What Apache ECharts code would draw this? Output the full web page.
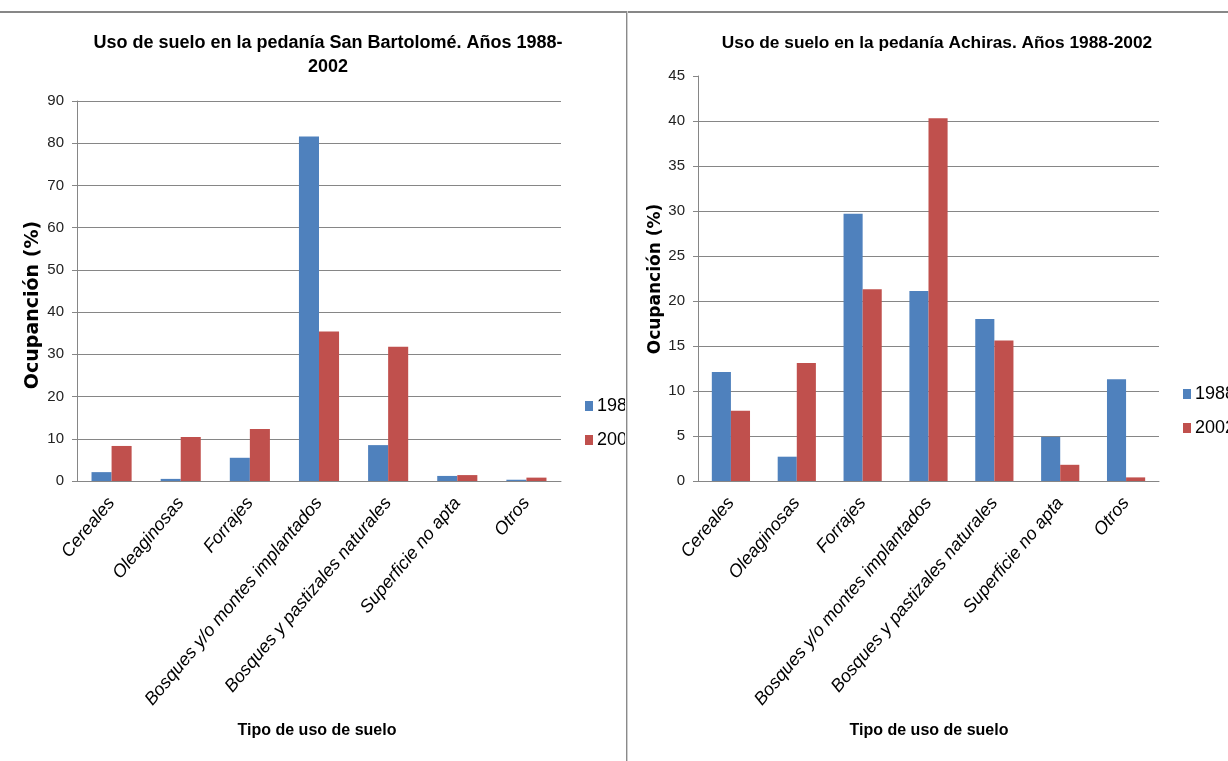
<!DOCTYPE html>
<html lang="es">
<head>
<meta charset="utf-8">
<title>Uso de suelo 1988-2002</title>
<script src="https://cdn.jsdelivr.net/npm/echarts@6/dist/echarts.min.js"></script>
<style>
  html, body { margin: 0; padding: 0; background: #ffffff; }
  #page { position: relative; width: 1228px; height: 761px; overflow: hidden; background: #ffffff; }
  .panel { position: absolute; top: 0; height: 761px; overflow: hidden; }
  #sanBartolome { left: 0; width: 625px; }
  #achiras { left: 628px; width: 600px; }
  #borderTop { position: absolute; left: 0; top: 11px; width: 1228px; height: 2px; background: #878787; }
  #divider { position: absolute; left: 626px; top: 11px; width: 1px; height: 750px; background: #8a8a8a; border-right: 1px solid #cfcfcf; }
</style>
</head>
<body>
<div id="page">
  <div id="sanBartolome" class="panel"></div>
  <div id="achiras" class="panel"></div>
  <div id="borderTop"></div>
  <div id="divider"></div>
</div>
<script>
// Land-use categories shared by both districts
const categorias = [
  'Cereales',
  'Oleaginosas',
  'Forrajes',
  'Bosques y/o montes implantados',
  'Bosques y pastizales naturales',
  'Superficie no apta',
  'Otros'
];
const anios = ['1988', '2002'];

// Occupation (%) — pedanía San Bartolomé
const sanBartolome1988 = [2.1, 0.5, 5.5, 81.6, 8.5, 1.2, 0.3];
const sanBartolome2002 = [8.3, 10.4, 12.3, 35.4, 31.8, 1.4, 0.8];

// Occupation (%) — pedanía Achiras
const achiras1988 = [12.1, 2.7, 29.7, 21.1, 18.0, 4.9, 11.3];
const achiras2002 = [7.8, 13.1, 21.3, 40.3, 15.6, 1.8, 0.4];

// Value-axis ticks
const ticksSanBartolome = [0, 10, 20, 30, 40, 50, 60, 70, 80, 90];
const ticksAchiras = [0, 5, 10, 15, 20, 25, 30, 35, 40, 45];

const tituloSanBartolome = 'Uso de suelo en la pedanía San Bartolomé. Años 1988-\n2002';
const tituloAchiras = 'Uso de suelo en la pedanía Achiras. Años 1988-2002';
const tituloEjeY = 'Ocupanción (%)';
const tituloEjeX = 'Tipo de uso de suelo';

const colores = ['#4F81BD', '#C0504D'];

const SANS = '"Liberation Sans", Arial, sans-serif';
const WIDE = '"DejaVu Sans", Verdana, sans-serif';

function buildOption(cfg) {
  const ticks = cfg.ticks;
  const step = ticks[1] - ticks[0];
  const gridColor = '#868686';
  // the topmost gridline can be left out
  const splitColors = ticks.map((t, i) => (cfg.hideTopGrid && i === ticks.length - 1) ? 'rgba(0,0,0,0)' : gridColor);
  return {
    animation: false,
    backgroundColor: '#ffffff',
    color: colores,
    grid: { left: cfg.grid.left, top: cfg.grid.top, width: cfg.grid.width, height: cfg.grid.height, containLabel: false },
    legend: {
      data: anios,
      orient: 'vertical',
      left: cfg.legend.left,
      top: cfg.legend.top,
      padding: 0,
      itemWidth: 8,
      itemHeight: 10,
      itemGap: cfg.legend.gap,
      icon: 'rect',
      textStyle: { fontFamily: SANS, fontSize: cfg.legend.size, color: '#000000', padding: [0, 0, 0, -1] }
    },
    xAxis: {
      type: 'category',
      data: categorias,
      axisLine: { lineStyle: { color: gridColor, width: 1 } },
      axisTick: { show: false },
      axisLabel: {
        interval: 0,
        rotate: 50,
        margin: 19,
        fontFamily: SANS,
        fontStyle: 'italic',
        fontSize: cfg.catSize,
        color: '#000000'
      }
    },
    yAxis: {
      type: 'value',
      min: ticks[0],
      max: ticks[ticks.length - 1],
      interval: step,
      axisLine: { show: true, lineStyle: { color: gridColor, width: 1 } },
      axisTick: { show: true, length: 5, lineStyle: { color: gridColor } },
      axisLabel: { margin: 13, fontFamily: SANS, fontSize: cfg.tickSize, color: '#222222' },
      splitLine: { show: true, lineStyle: { color: splitColors, width: 1 } }
    },
    series: [
      { name: anios[0], type: 'bar', data: cfg.v1988, barGap: '0%', barCategoryGap: '42%' },
      { name: anios[1], type: 'bar', data: cfg.v2002, barGap: '0%', barCategoryGap: '42%' }
    ],
    graphic: [
      {
        type: 'text',
        x: cfg.title.x, y: cfg.title.y,
        style: {
          text: cfg.title.text,
          textAlign: 'center', textVerticalAlign: 'top',
          font: 'bold ' + cfg.title.size + 'px ' + SANS,
          lineHeight: 24,
          fill: '#000000'
        }
      },
      {
        type: 'text',
        x: cfg.yName.x, y: cfg.yName.y,
        rotation: Math.PI / 2,
        style: {
          text: tituloEjeY,
          textAlign: 'center', textVerticalAlign: 'middle',
          font: 'bold ' + cfg.yName.size + 'px ' + WIDE,
          fill: '#000000'
        }
      },
      {
        type: 'text',
        x: cfg.xName.x, y: cfg.xName.y,
        style: {
          text: tituloEjeX,
          textAlign: 'center', textVerticalAlign: 'middle',
          font: 'bold ' + cfg.xName.size + 'px ' + SANS,
          fill: '#000000'
        }
      }
    ]
  };
}

const chartSB = echarts.init(document.getElementById('sanBartolome'), null, { renderer: 'canvas' });
chartSB.setOption(buildOption({
  ticks: ticksSanBartolome,
  hideTopGrid: false,
  v1988: sanBartolome1988,
  v2002: sanBartolome2002,
  grid: { left: 77, top: 101, width: 484, height: 380 },
  legend: { left: 585, top: 397, gap: 16, size: 18 },
  catSize: 18,
  tickSize: 15,
  title: { text: tituloSanBartolome, x: 328, y: 31, size: 18 },
  yName: { x: 33, y: 305, size: 19 },
  xName: { x: 317, y: 731, size: 16 }
}));

const chartAC = echarts.init(document.getElementById('achiras'), null, { renderer: 'canvas' });
chartAC.setOption(buildOption({
  ticks: ticksAchiras,
  hideTopGrid: true,
  v1988: achiras1988,
  v2002: achiras2002,
  grid: { left: 70, top: 76, width: 461, height: 405 },
  legend: { left: 555, top: 385, gap: 16, size: 18 },
  catSize: 18,
  tickSize: 15,
  title: { text: tituloAchiras, x: 309, y: 31, size: 17.3 },
  yName: { x: 28, y: 279, size: 17 },
  xName: { x: 301, y: 731, size: 16 }
}));
</script>
</body>
</html>
